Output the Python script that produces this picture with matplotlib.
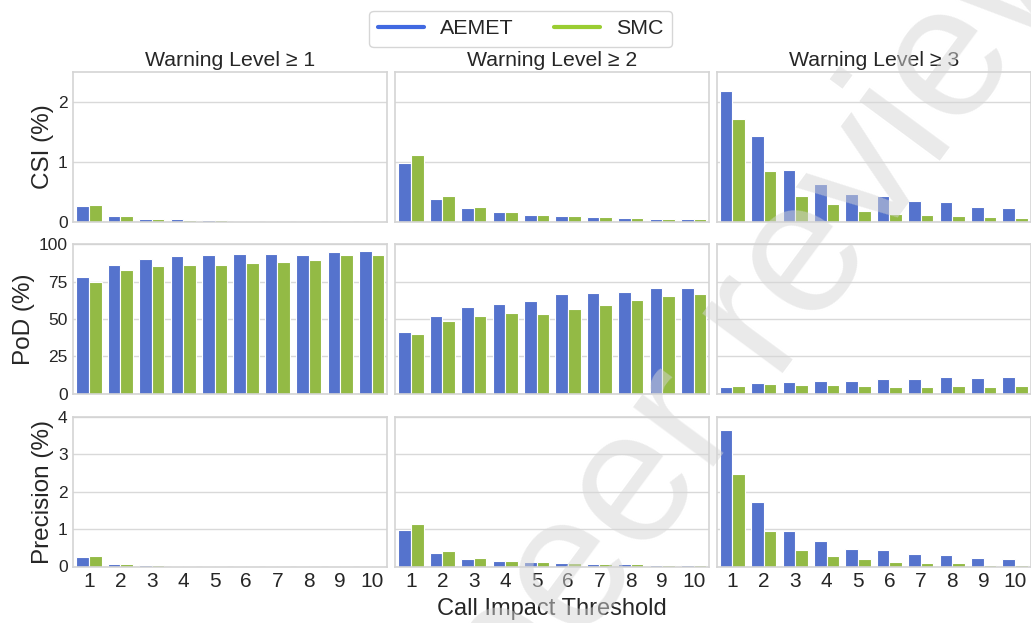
import matplotlib
matplotlib.use("Agg")
import matplotlib.pyplot as plt
from matplotlib.lines import Line2D
import seaborn as sns
import numpy as np

sns.set_theme(style="whitegrid")
plt.rcParams['font.family'] = ['Liberation Sans', 'DejaVu Sans']

thresholds = [1, 2, 3, 4, 5, 6, 7, 8, 9, 10]
levels = ["Warning Level \u2265 1", "Warning Level \u2265 2", "Warning Level \u2265 3"]
metrics = ["CSI (%)", "PoD (%)", "Precision (%)"]

# CSI
csi_aemet_l1 = [0.26, 0.09, 0.05, 0.035, 0.02, 0.006, 0.003, 0.002, 0.002, 0.002]
csi_smc_l1 = [0.28, 0.10, 0.05, 0.03, 0.02, 0.01, 0.004, 0.003, 0.002, 0.002]
csi_aemet_l2 = [0.97, 0.38, 0.22, 0.155, 0.115, 0.09, 0.075, 0.06, 0.045, 0.04]
csi_smc_l2 = [1.11, 0.42, 0.24, 0.165, 0.11, 0.09, 0.075, 0.065, 0.05, 0.045]
csi_aemet_l3 = [2.18, 1.43, 0.855, 0.63, 0.46, 0.42, 0.34, 0.32, 0.245, 0.22]
csi_smc_l3 = [1.72, 0.84, 0.42, 0.295, 0.18, 0.13, 0.11, 0.09, 0.067, 0.06]

# PoD
pod_aemet_l1 = [78.1, 86.1, 90.2, 92.2, 93.0, 93.5, 93.3, 93.0, 94.8, 95.5]
pod_smc_l1 = [75.0, 82.6, 85.5, 86.2, 86.2, 87.5, 88.4, 89.7, 92.6, 93.0]
pod_aemet_l2 = [41.3, 51.8, 57.8, 60.0, 62.0, 66.7, 67.4, 68.1, 70.7, 70.7]
pod_smc_l2 = [39.7, 48.7, 51.8, 53.8, 53.3, 56.9, 59.4, 62.5, 65.6, 66.7]
pod_aemet_l3 = [4.7, 7.4, 7.8, 8.3, 8.3, 9.8, 9.6, 11.0, 10.8, 11.2]
pod_smc_l3 = [5.2, 6.3, 5.6, 5.8, 5.4, 4.7, 4.5, 5.4, 4.7, 5.0]

# Precision
prec_aemet_l1 = [0.25, 0.07, 0.03, 0.005, 0.003, 0.002, 0.002, 0.001, 0.001, 0.001]
prec_smc_l1 = [0.27, 0.08, 0.03, 0.02, 0.004, 0.003, 0.002, 0.001, 0.001, 0.001]
prec_aemet_l2 = [0.98, 0.365, 0.20, 0.15, 0.11, 0.09, 0.07, 0.055, 0.04, 0.03]
prec_smc_l2 = [1.13, 0.42, 0.22, 0.15, 0.11, 0.09, 0.065, 0.055, 0.04, 0.035]
prec_aemet_l3 = [3.66, 1.72, 0.95, 0.68, 0.47, 0.43, 0.34, 0.31, 0.24, 0.20]
prec_smc_l3 = [2.47, 0.95, 0.44, 0.29, 0.19, 0.13, 0.10, 0.09, 0.05, 0.05]

data = [
    [(csi_aemet_l1, csi_smc_l1), (csi_aemet_l2, csi_smc_l2), (csi_aemet_l3, csi_smc_l3)],
    [(pod_aemet_l1, pod_smc_l1), (pod_aemet_l2, pod_smc_l2), (pod_aemet_l3, pod_smc_l3)],
    [(prec_aemet_l1, prec_smc_l1), (prec_aemet_l2, prec_smc_l2), (prec_aemet_l3, prec_smc_l3)],
]
ylims = [2.5, 100, 4]
yticks = [[0, 1, 2], [0, 25, 50, 75, 100], [0, 1, 2, 3, 4]]

c_aemet = "royalblue"
c_smc = "yellowgreen"
bar_aemet = sns.desaturate(c_aemet, 0.75)
bar_smc = sns.desaturate(c_smc, 0.75)

W, H = 1031, 623
fig = plt.figure(figsize=(W / 100, H / 100), dpi=100)

col_left = [73.3, 395.3, 716.7]
col_w = 314.0
row_top = [72.0, 244.3, 417.0]
row_h = 149.5

x = np.arange(len(thresholds))
bw = 0.4
for r in range(3):
    for c in range(3):
        ax = fig.add_axes([col_left[c] / W, 1 - (row_top[r] + row_h) / H, col_w / W, row_h / H])
        a, s = data[r][c]
        ax.bar(x - bw / 2, a, width=bw, color=bar_aemet, edgecolor="white", linewidth=0.8, zorder=2)
        ax.bar(x + bw / 2, s, width=bw, color=bar_smc, edgecolor="white", linewidth=0.8, zorder=2)
        ax.set_xlim(-0.5, 9.5)
        ax.set_ylim(0, ylims[r])
        ax.set_yticks(yticks[r])
        ax.set_xticks(x)
        ax.grid(axis="x", visible=False)
        ax.grid(axis="y", color="#d9d9d9", linewidth=1.0, zorder=0)
        ax.set_axisbelow(True)
        for sp in ax.spines.values():
            sp.set_color("#d4d4d4")
            sp.set_linewidth(1.2)
        ax.tick_params(axis="both", length=0, colors="#262626")
        ax.tick_params(axis="y", labelsize=12.5, pad=4)
        ax.tick_params(axis="x", labelsize=15, pad=4)
        if c == 0:
            ax.set_ylabel(metrics[r], fontsize=17.5, color="#262626", labelpad=3)
        else:
            ax.set_yticklabels([])
        if r == 2:
            ax.set_xticklabels([str(t) for t in thresholds])
            if c == 1:
                ax.set_xlabel("Call Impact Threshold", fontsize=17, color="#262626", labelpad=5)
        else:
            ax.set_xticklabels([])
        if r == 0:
            ax.set_title(levels[c], fontsize=15.3, color="#262626", pad=4)

handles = [Line2D([0], [0], color=c_aemet, lw=3), Line2D([0], [0], color=c_smc, lw=3)]
leg = fig.legend(handles, ["AEMET", "SMC"], loc="upper center", bbox_to_anchor=(0.505, 1.0),
                 ncol=2, fontsize=15.4, frameon=True, handlelength=2.15, columnspacing=1.9,
                 handletextpad=0.75, borderpad=0.4)
leg.get_frame().set_edgecolor("#cccccc")

fig.text(0.502, -0.175, "peer review", fontsize=137, color="#d6d6d6", alpha=0.5,
         rotation=53.5, rotation_mode="anchor", ha="left", va="baseline", zorder=100)

fig.savefig("out.png", dpi=100)
